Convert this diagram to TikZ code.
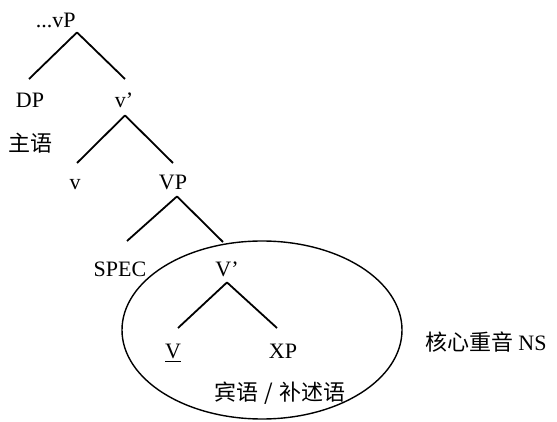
\documentclass[tikz,border=0pt]{standalone}
\usepackage{fontspec}
\setmainfont{Liberation Serif}
\newfontfamily\cjk{Noto Sans CJK SC}
\usetikzlibrary{shapes.geometric}

\begin{document}
\begin{tikzpicture}[
    x=0.5pt, y=-0.5pt,
    every node/.style={font=\fontsize{11}{13}\selectfont, inner sep=0pt},
    cat/.style={anchor=base, text height=7.3pt, text depth=0pt},
    gloss/.style={font=\fontsize{11}{13}\selectfont\cjk},
    branch/.style={line width=0.9pt},
  ]
  \useasboundingbox (0,0) rectangle (557,422);

  % tree
  \node[cat, anchor=base east] (vP) at (76,28) {...vP};
  \node[cat] (DP)   at (30,108)  {DP};
  \node[cat] (vbar) at (124,108) {v’};
  \node[gloss] (subj) at (31,143) {主语};
  \node[cat] (v)    at (75,190)  {v};
  \node[cat] (VP)   at (173,190) {VP};
  \node[cat] (spec) at (120,277) {SPEC};
  \node[cat] (Vbar) at (227,277) {V’};
  \node[cat] (V)    at (173,358) {\underline{V}};
  \node[cat] (XP)   at (283,358) {XP};

  % stress domain
  \node[draw, ellipse, line width=0.7pt, minimum width=140pt, minimum height=89pt] (domain) at (262,330) {};
  \node[gloss] (obj) at (280,393) {宾语\hspace{3pt}/\hspace{3pt}补述语};
  \node[gloss] (ns)  at (486,342) {核心重音 {\rmfamily\fontsize{11}{13}\selectfont NS}};

  \draw[branch] ([xshift=0.5pt,yshift=-2pt]vP.south east) -- ([xshift=-0.5pt,yshift=7pt]DP.north);
  \draw[branch] ([xshift=0.5pt,yshift=-2pt]vP.south east) -- ([xshift=0.5pt,yshift=7pt]vbar.north);
  \draw[branch] ([xshift=0.5pt,yshift=-3.5pt]vbar.south) -- ([xshift=1pt,yshift=6pt]v.north);
  \draw[branch] ([xshift=0.5pt,yshift=-3.5pt]vbar.south) -- ([yshift=6pt]VP.north);
  \draw[branch] ([xshift=2pt,yshift=-3pt]VP.south) -- ([xshift=3.5pt,yshift=10.5pt]spec.north);
  \draw[branch] ([xshift=2pt,yshift=-3pt]VP.south) -- ([xshift=-2pt,yshift=10pt]Vbar.north);
  \draw[branch] ([yshift=-2.5pt]Vbar.south) -- ([xshift=2.5pt,yshift=7.5pt]V.north);
  \draw[branch] ([yshift=-2.5pt]Vbar.south) -- ([xshift=-3pt,yshift=7.5pt]XP.north);
\end{tikzpicture}
\end{document}
